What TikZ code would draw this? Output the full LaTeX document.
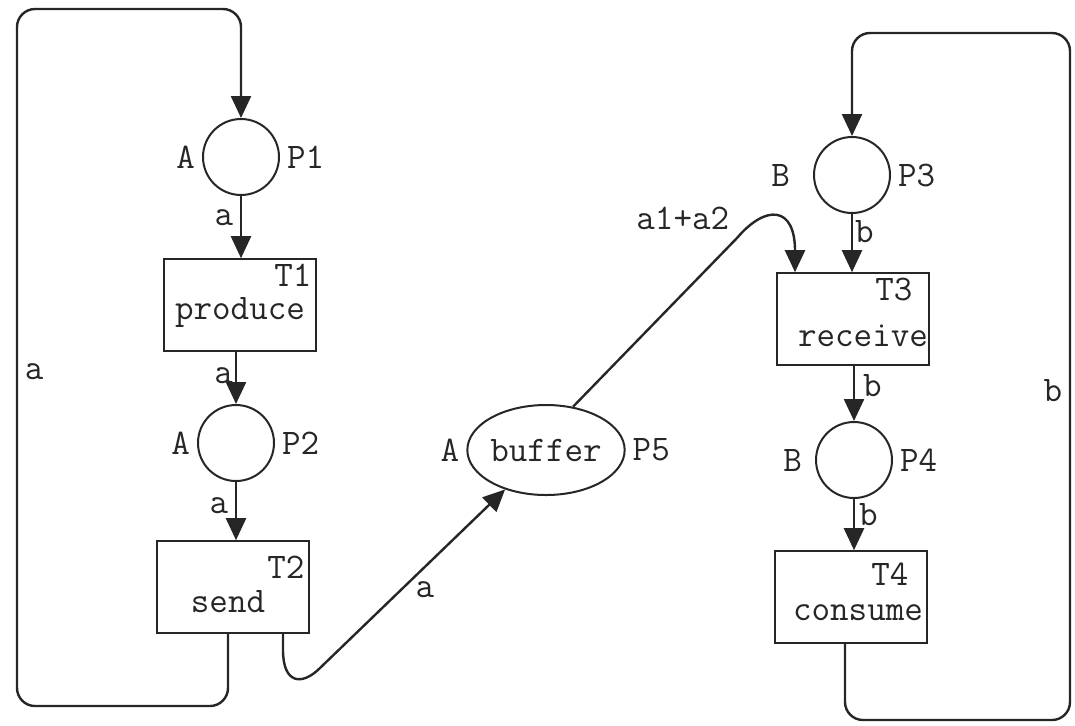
\documentclass[tikz,border=0pt]{standalone}
\usepackage{fontspec}
\usetikzlibrary{arrows.meta, shapes.geometric}
\newcommand{\netfont}{\ttfamily\fontsize{18}{20}\selectfont}

\tikzset{
  place/.style={circle, draw, line width=1pt, minimum size=38pt, inner sep=0pt},
  trans/.style={rectangle, draw, line width=0.8pt, minimum width=76pt, minimum height=46pt, inner sep=0pt},
  arcto/.style={line width=1.2pt, -{Triangle[length=11pt,width=10pt]}},
  tname/.style={inner sep=0pt},
}

\begin{document}
\begin{tikzpicture}[x=0.5pt, y=-0.5pt, font=\netfont, color=black!85]
  \useasboundingbox (0,0) rectangle (1075,725);

  % places
  \node[place, label=left:A, label=right:P1] (p1) at (241,157) {};
  \node[place, label=left:A, label=right:P2] (p2) at (236,443) {};
  \node[place, label={[label distance=8pt]left:B}, label=right:P3] (p3) at (852,175) {};
  \node[place, label={[label distance=3pt]left:B}, label=right:P4] (p4) at (854,460) {};
  \node[ellipse, draw, line width=1pt, minimum width=78pt, minimum height=45pt, inner sep=0pt,
        label=left:A, label=right:P5] (p5) at (546,450) {buffer};

  % transitions
  \node[trans, label={[anchor=north east, inner sep=2.5pt]north east:T1},
        label={[tname, yshift=-3.5pt]center:produce}] (t1) at (240,305) {};
  \node[trans, label={[anchor=north east, inner sep=2.5pt, yshift=-5pt]north east:T2},
        label={[tname, xshift=-2.5pt, yshift=-7.5pt]center:send}] (t2) at (233,587) {};
  \node[trans, label={[anchor=north east, inner sep=2.5pt, xshift=-6pt]north east:T3},
        label={[tname, xshift=5pt, yshift=-8.5pt]center:receive}] (t3) at (853,319) {};
  \node[trans, label={[anchor=north east, inner sep=2.5pt, xshift=-7pt, yshift=-3.5pt]north east:T4},
        label={[tname, xshift=3.5pt, yshift=-8pt]center:consume}] (t4) at (851,597) {};

  % sender
  \draw[arcto] (p1) -- (p1 |- t1.north) node[pos=0.35, left]{a};
  \draw[arcto] (t1.south -| p2) -- (p2) node[pos=0.45, left, inner sep=1pt]{a};
  \draw[arcto] (p2) -- (p2 |- t2.north) node[pos=0.4, left]{a};
  \draw[arcto, rounded corners=9pt] (t2.south -| 228,0) -- (228,706) -- (17,706)
    -- node[pos=0.48, right]{a} (17,9) -- (p1 |- 0,9) -- (p1);

  % buffer
  \draw[arcto] (t2.south -| 283,0) -- (283,650) .. controls (283,684) and (302,686) .. (320,668)
    -- (p5) node[pos=0.5, below right, inner sep=1pt]{a};
  \draw[arcto] (p5.58) -- (737,238) node[pos=1, above left]{a1+a2}
    .. controls (766,204) and (795,206) .. (t3.north -| 795,0);

  % receiver
  \draw[arcto] (p3) -- (p3 |- t3.north) node[pos=0.3, right, inner sep=1pt]{b};
  \draw[arcto] (t3.south -| p4) -- (p4) node[pos=0.35, right, inner sep=4pt]{b};
  \draw[arcto] (p4) -- (p4 |- t4.north) node[pos=0.3, right, inner sep=2pt]{b};
  \draw[arcto, rounded corners=9pt] (t4.south -| 845,0) -- (845,720) -- (1070,720)
    -- node[pos=0.48, left]{b} (1070,33) -- (p3 |- 0,33) -- (p3);
\end{tikzpicture}
\end{document}
